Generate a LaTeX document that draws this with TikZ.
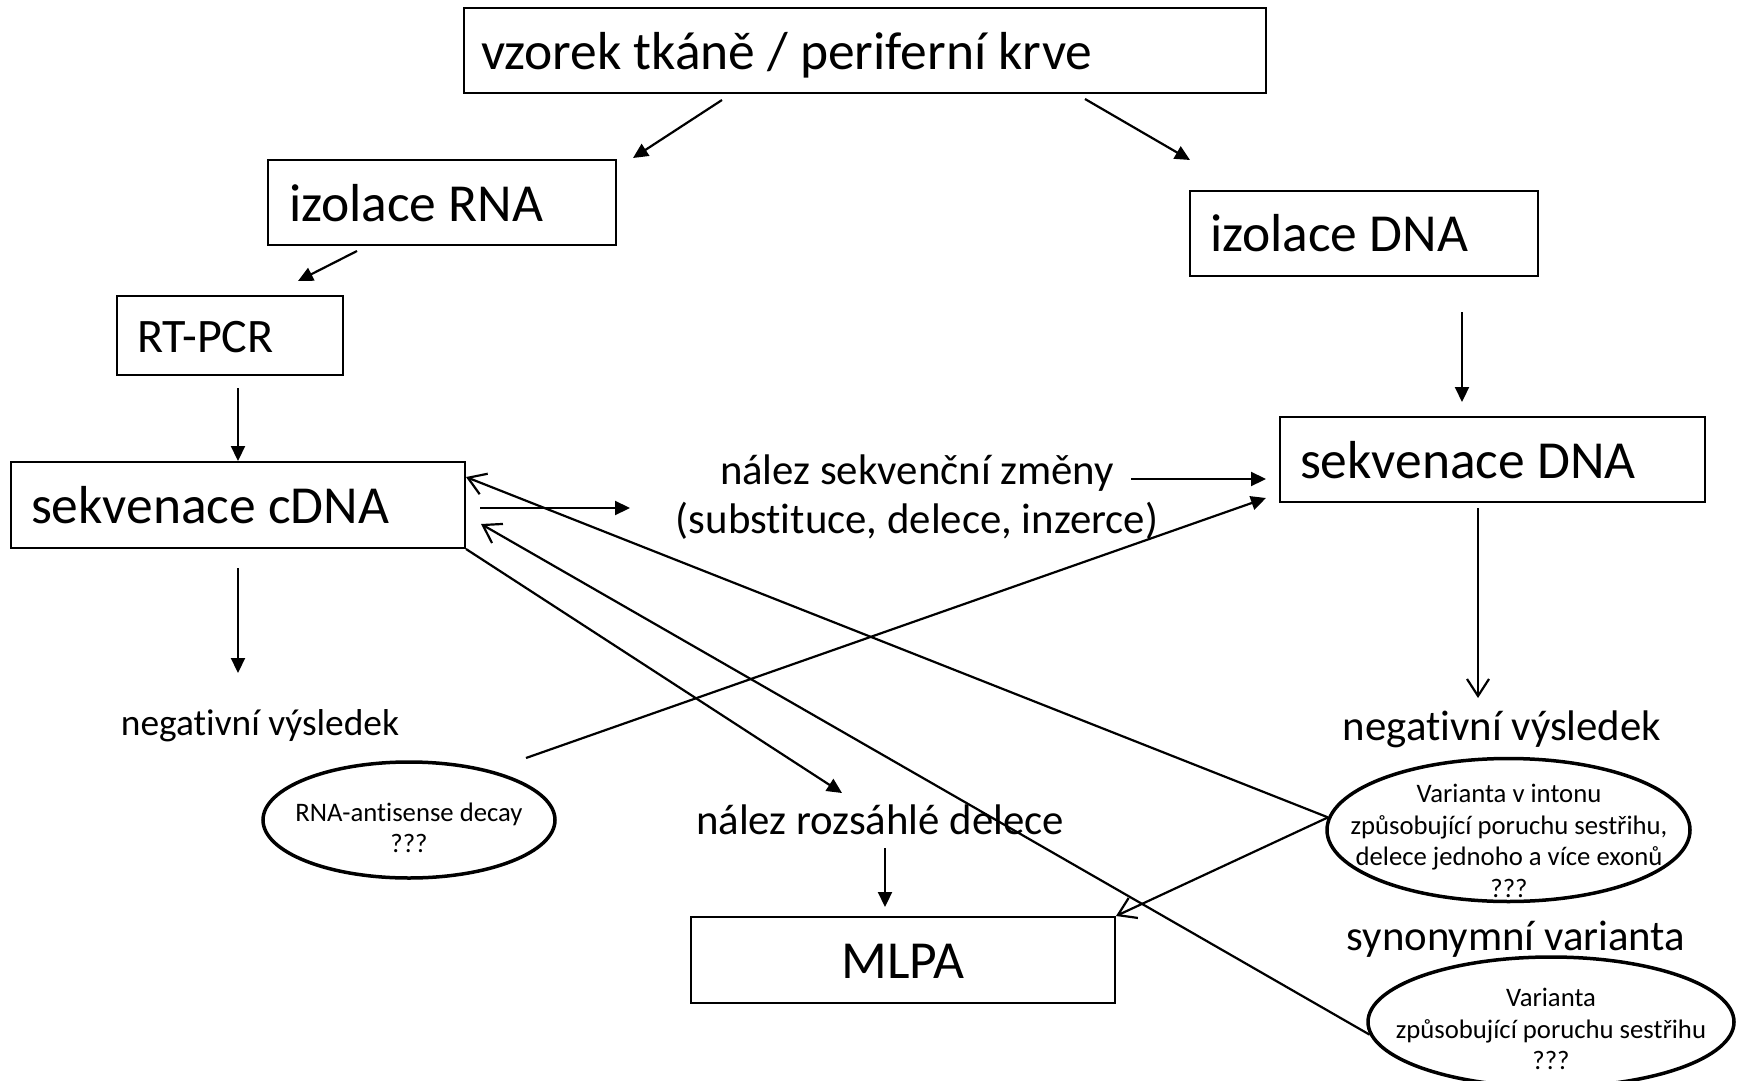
\documentclass[tikz,border=0pt]{standalone}
\usepackage{fontspec}
\setmainfont{Carlito}[RawFeature={-liga}]
\usetikzlibrary{shapes.geometric,arrows.meta}
\newcommand{\natsp}{\spaceskip=0pt\xspaceskip=0pt\relax}
\begin{document}
\begin{tikzpicture}[x=1pt,y=-1pt,
  box/.style={draw, line width=2pt, rectangle, inner ysep=0pt, text height=42pt, text depth=4.6pt},
  lbox/.style={box, align=left, execute at begin node=\natsp},
  ell/.style={draw, ellipse, line width=3.5pt, inner sep=0pt},
  fa/.style={-{Triangle[length=15pt,width=14pt]}, line width=2.2pt},
  oa/.style={-{Straight Barb[length=17pt,width=22pt]}, line width=2.2pt},
  fbig/.style={font=\fontsize{53.5}{64}\selectfont},
  frt/.style={font=\fontsize{48.1}{58}\selectfont, text height=38pt, text depth=4pt},
  fmid/.style={font=\fontsize{42.8}{49}\selectfont, align=center},
  fneg/.style={font=\fontsize{37.4}{44}\selectfont},
  fell/.style={font=\fontsize{26.7}{31.5}\selectfont, align=center}
]
\fill[white] (0,0) rectangle (1741,1081);
\useasboundingbox (0,0) rectangle (1741,1081);

% boxes
\node[lbox, fbig, minimum width=802pt, minimum height=85pt, inner xsep=17pt, text width=768pt] (top) at (865,51) {vzorek tkáně / periferní krve};
\node[lbox, fbig, minimum width=348pt, minimum height=85pt, inner xsep=21pt, text width=306pt] (rna) at (442,202.5) {izolace RNA};
\node[lbox, fbig, minimum width=348pt, minimum height=85pt, inner xsep=20pt, text width=308pt] (dna) at (1364,233) {izolace DNA};
\node[lbox, frt, minimum width=226pt, minimum height=79pt, inner xsep=20pt, text width=186pt] (rtpcr) at (230,335.5) {RT-PCR};
\node[lbox, fbig, minimum width=454pt, minimum height=86pt, inner xsep=20pt, text width=414pt] (cdna) at (238,505) {sekvenace cDNA};
\node[lbox, fbig, minimum width=425pt, minimum height=85pt, inner xsep=20pt, text width=385pt] (sdna) at (1492.5,459.5) {sekvenace DNA};
\node[box, fbig, minimum width=424pt, minimum height=86pt] (mlpa) at (903,960) {MLPA};

% free texts
\node[fmid] (nsz) at (917,497) {nález sekvenční změny\\(substituce, delece, inzerce)};
\node[fneg] (negl) at (260,726) {negativní výsledek};
\node[fmid] (negr) at (1502,729) {negativní výsledek};
\node[fmid] (nrd) at (880,820) {nález rozsáhlé delece};
\node[fmid] (syn) at (1516,939) {synonymní varianta};

% ellipses
\node[ell, minimum width=292pt, minimum height=116pt] (e0) at (409,820) {};
\node[fell] (e0t) at (409,828) {RNA-antisense decay\\???};
\node[ell, minimum width=363pt, minimum height=143pt] (e1) at (1508.5,830) {};
\node[fell] (e1t) at (1509,841) {Varianta v intonu\\způsobující poruchu sestřihu,\\delece jednoho a více exonů\\???};
\node[ell, minimum width=366pt, minimum height=130pt] (e2) at (1551,1022) {};
\node[fell] (e2t) at (1551,1029) {Varianta\\způsobující poruchu sestřihu\\???};

% connector end points
\coordinate (a1s) at (722,100); \coordinate (a1e) at (633,158);
\coordinate (a2s) at (1085,99); \coordinate (a2e) at (1190,160);
\coordinate (a3s) at (357,251); \coordinate (a3e) at (298,281);
\coordinate (a4s) at (1462,312); \coordinate (a4e) at (1462,402);
\coordinate (a5s) at (238,388);
\coordinate (a6s) at (238,568); \coordinate (a6e) at (238,673);
\coordinate (a7s) at (480,508); \coordinate (a7e) at (630,508);
\coordinate (a8s) at (1131,479); \coordinate (a8e) at (1266,479);
\coordinate (a9s) at (526,758); \coordinate (a9e) at (1266,498);
\coordinate (a10s) at (1478,508); \coordinate (a10e) at (1478,698);
\coordinate (a11e) at (842,793);
\coordinate (a12s) at (885,848); \coordinate (a12e) at (885,907);
\coordinate (a15e) at (481,524);

% connectors
\draw[fa] (a1s) -- (a1e);
\draw[fa] (a2s) -- (a2e);
\draw[fa] (a3s) -- (a3e);
\draw[fa] (a4s) -- (a4e);
\draw[fa] (a5s) -- (cdna.north);
\draw[fa] (a6s) -- (a6e);
\draw[fa] (a7s) -- (a7e);
\draw[fa] (a8s) -- (a8e);
\draw[fa] (a9s) -- (a9e);
\draw[oa] (a10s) -- (a10e);
\draw[fa] (cdna.south east) -- (a11e);
\draw[fa] (a12s) -- (a12e);
\draw[oa] (e1.176) -- (cdna.7);
\draw[oa] (e1.176) -- (mlpa.north east);
\draw[oa] (e2.184) -- (a15e);
\end{tikzpicture}
\end{document}
